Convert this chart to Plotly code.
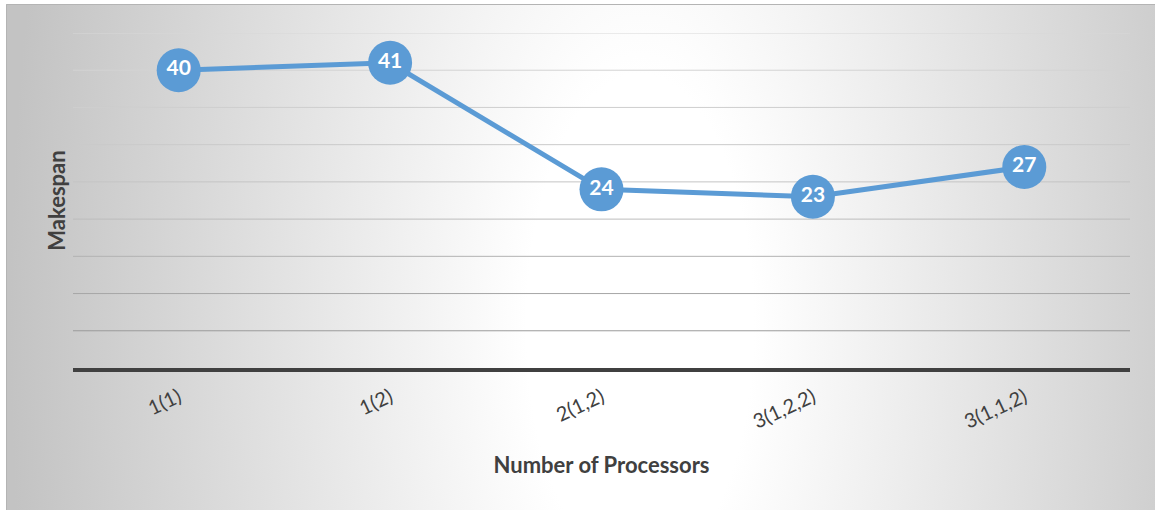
import base64
import plotly.graph_objects as go

categories = ["1(1)", "1(2)", "2(1,2)", "3(1,2,2)", "3(1,1,2)"]
makespan = [40, 41, 24, 23, 27]
grid_values = [5, 10, 15, 20, 25, 30, 35, 40, 45]
grid_colors = ["#9a9a9a", "#a6a6a6", "#b2b2b2", "#bcbcbc", "#c4c4c4",
               "#cacaca", "#cfcfcf", "#d3d3d3", "#d7d7d7"]

W, H = 1155, 510
L, R, T, B = 73, 25, 33, 142
pw, ph = W - L - R, H - T - B


def px_to_paper_x(px):
    return (px - L) / pw


def py_to_paper_y(py):
    return (H - B - py) / ph


# radial gradient background (as an inline SVG image)
bx0, by0, bw, bh = 6, 4, 1150, 506
svg = f'''<svg xmlns="http://www.w3.org/2000/svg" width="{bw}" height="{bh}" viewBox="0 0 {bw} {bh}" preserveAspectRatio="none">
<defs><radialGradient id="g" gradientUnits="userSpaceOnUse" cx="634" cy="320" r="630"
 gradientTransform="translate(634 320) scale(1 2.2) translate(-634 -320)">
<stop offset="0" stop-color="#ffffff"/><stop offset="0.18" stop-color="#ffffff"/>
<stop offset="1" stop-color="#c3c3c3"/></radialGradient></defs>
<rect x="0" y="0" width="{bw}" height="{bh}" fill="url(#g)"/></svg>'''
src = "data:image/svg+xml;base64," + base64.b64encode(svg.encode()).decode()

fig = go.Figure()
fig.add_trace(go.Scatter(
    x=categories, y=makespan, mode="lines+markers+text",
    line=dict(color="#5b9bd5", width=5),
    marker=dict(size=44, color="#5b9bd5"),
    text=[str(v) for v in makespan], textposition="middle center",
    textfont=dict(color="white", size=21, family="Lato", weight="bold"),
    cliponaxis=False, hoverinfo="skip", showlegend=False,
))

shapes = []
for v, c in zip(grid_values, grid_colors):
    shapes.append(dict(type="line", xref="paper", yref="y", x0=0, x1=1, y0=v, y1=v,
                       line=dict(color=c, width=1), layer="below"))
shapes.append(dict(type="rect", xref="paper", yref="paper",
                   x0=px_to_paper_x(bx0 + 0.5), x1=px_to_paper_x(W + 5),
                   y0=py_to_paper_y(H + 5), y1=py_to_paper_y(by0 + 0.5),
                   line=dict(color="#b4b4b4", width=1), layer="below"))

fig.update_layout(
    width=W, height=H,
    margin=dict(l=L, r=R, t=T, b=B),
    paper_bgcolor="white", plot_bgcolor="rgba(0,0,0,0)",
    font=dict(family="Lato", color="#404040"),
    images=[dict(source=src, xref="paper", yref="paper",
                 x=px_to_paper_x(bx0), y=py_to_paper_y(by0),
                 sizex=bw / pw, sizey=bh / ph, xanchor="left", yanchor="top",
                 sizing="stretch", layer="below")],
    shapes=shapes,
    xaxis=dict(range=[-0.5, 4.5], showgrid=False, zeroline=False,
               showline=True, linecolor="#404040", linewidth=4,
               tickangle=-25, tickfont=dict(size=20, color="#404040"),
               ticks="", ticklabelstandoff=6,
               title=dict(text="Number of Processors", standoff=27,
                          font=dict(size=22, weight="bold", color="#404040"))),
    yaxis=dict(range=[0, 45], showgrid=False, zeroline=False, showticklabels=False,
               ticks="",
               title=dict(text="Makespan", standoff=0,
                          font=dict(size=22, weight="bold", color="#404040"))),
)

fig.write_html("out.html")
